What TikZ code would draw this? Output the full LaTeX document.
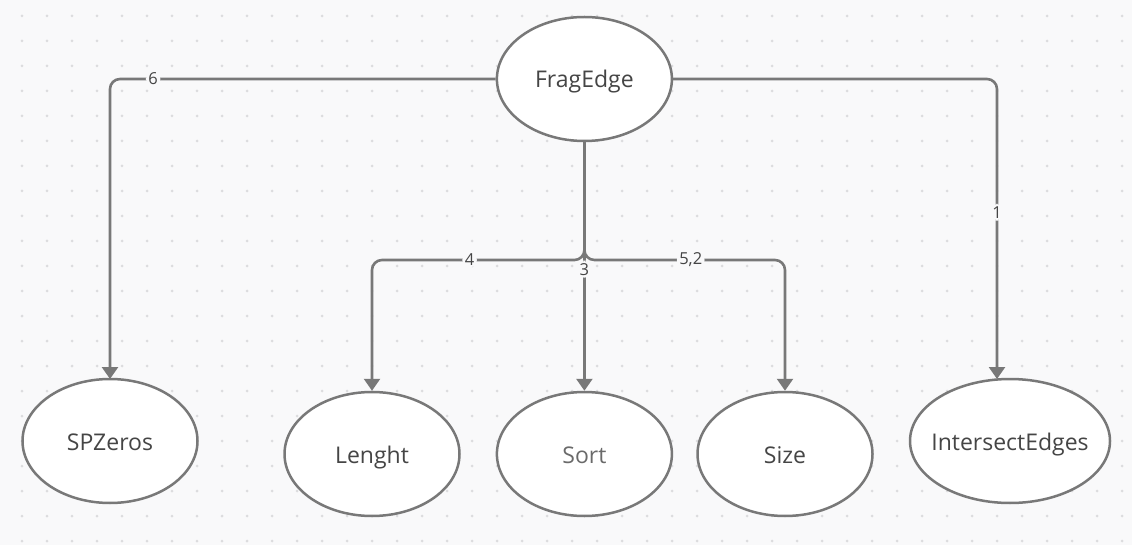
\documentclass[tikz,border=0pt]{standalone}
\usepackage{fontspec}
\setmainfont{Open Sans}
\usepackage{tikz}
\usetikzlibrary{arrows.meta,positioning,shapes.geometric}
\definecolor{bgc}{HTML}{F9F9FA}
\definecolor{dotc}{HTML}{DCDCDE}
\definecolor{lnc}{HTML}{787878}
\definecolor{txc}{HTML}{454545}
\tikzset{
  ent/.style={draw=lnc,ellipse,fill=white,line width=2.5pt,minimum width=175pt,minimum height=124pt,inner sep=0pt,text height=22pt,text depth=4pt,text=txc,font=\fontsize{23}{26}\selectfont},
  arr/.style={draw=lnc,line width=2.6pt,rounded corners=10pt,-{Triangle[width=16pt,length=12pt]}},
  lbl/.style={fill=bgc,inner sep=2.5pt,text=txc,font=\fontsize{16.5}{18}\selectfont},
}
\begin{document}
\begin{tikzpicture}[x=1pt,y=-1pt]
 \fill[bgc] (0,0) rectangle (1132,545);
 \useasboundingbox (0,0) rectangle (1132,545);
 \foreach \i in {0,...,44} \foreach \j in {0,...,21} \fill[dotc] (22+25*\i,16+25*\j) circle (1.5pt);
 % entities
 \node[ent] (frag) at (584.4,79){FragEdge};
 \node[ent] (spz) at (110,441){SPZeros};
 \node[ent] (len) at (372,454){Lenght};
 \node[ent,text=txc!80] (srt) at (584.4,454){Sort};
 \node[ent] (siz) at (785,454){Size};
 \node[ent,minimum width=200pt,inner xsep=-30pt] (isect) at (1010,441){IntersectEdges};
 \coordinate (fork) at (584.4,260);
 % calls
 \draw[arr](frag.west) -| node[lbl,pos=0.444]{6} (110,379);
 \draw[arr](frag.east) -| node[lbl,pos=0.722]{1} (997,379);
 \draw[arr](frag.south) -- (fork) -| node[lbl,pos=0.27]{4} (len.north);
 \draw[arr](frag.south) -- (fork) -- node[lbl,pos=0.07]{3} (srt.north);
 \draw[arr](frag.south) -- (fork) -| node[lbl,pos=0.265]{5,2} (siz.north);
\end{tikzpicture}
\end{document}
